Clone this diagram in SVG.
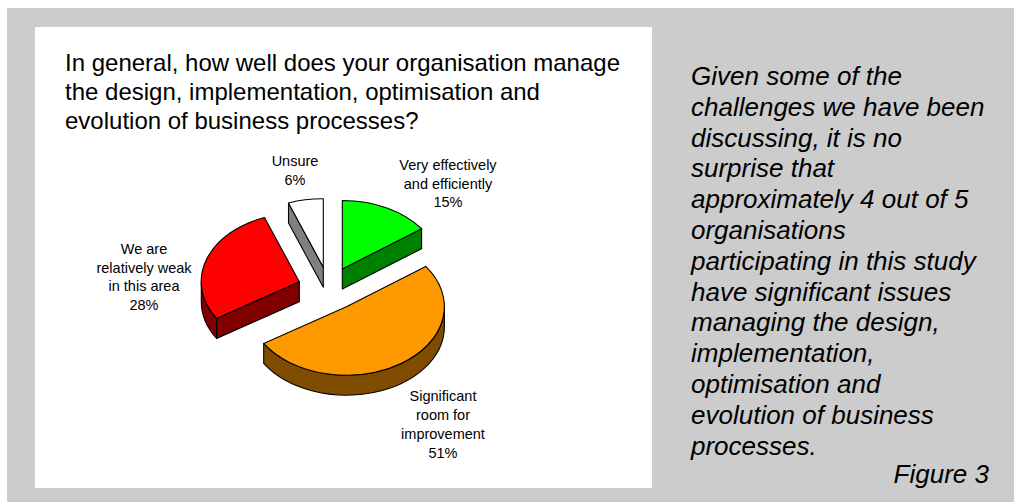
<svg xmlns="http://www.w3.org/2000/svg" width="1014" height="502" viewBox="0 0 1014 502">
<style>
.s{stroke:#000;stroke-width:1.1;stroke-linejoin:round}
.t{font-family:"Liberation Sans",Arial,sans-serif;fill:#000}
.lbl{font-size:14.5px;text-anchor:middle}
.ttl{font-size:24px}
.it{font-size:26px;font-style:italic}
</style>
<rect x="0" y="0" width="1014" height="502" fill="#fff"/>
<rect x="7" y="8" width="1007" height="494" fill="#cccccc"/>
<rect x="35" y="27" width="617" height="461" fill="#fff"/>

<g id="title" class="t ttl">
<text x="65" y="71">In general, how well does your organisation manage</text>
<text x="65" y="100">the design, implementation, optimisation and</text>
<text x="65" y="129">evolution of business processes?</text>
</g>

<g id="slice-very-effectively">
<path class="s" fill="#008000" d="M342.3,269 L421.6,228.7 L421.6,248.7 L342.3,289 Z"/>
<path class="s" fill="#00ff00" d="M342.3,269 L342.3,200.5 A98,68.5 0 0 1 421.6,228.7 Z"/>
</g>
<g id="slice-unsure">
<path class="s" fill="#808080" d="M288.5,203 L323.3,267.3 L323.3,287.3 L288.5,223 Z"/>
<path class="s" fill="#ffffff" d="M323.3,267.3 L288.5,203 A98,68.5 0 0 1 323.3,198.8 Z"/>
</g>
<g id="slice-weak">
<path class="s" fill="#800000" d="M216.6,318.4 A98,68.5 0 0 1 201.3,281.7 L201.3,301.7 A98,68.5 0 0 0 216.6,338.4 Z"/>
<path class="s" fill="#800000" d="M299.3,281.7 L216.6,318.4 L216.6,338.4 L299.3,301.7 Z"/>
<path class="s" fill="#ff0000" d="M299.3,281.7 L216.6,318.4 A98,68.5 0 0 1 264.5,217.5 Z"/>
</g>
<g id="slice-significant">
<path class="s" fill="#804c00" d="M444.4,306.7 A98,68.5 0 0 1 263.7,343.4 L263.7,363.4 A98,68.5 0 0 0 444.4,326.7 Z"/>
<path class="s" fill="#ff9900" d="M346.4,306.7 L425.7,266.4 A98,68.5 0 1 1 263.7,343.4 Z"/>
</g>

<g id="label-unsure" class="t lbl">
<text x="295" y="166">Unsure</text>
<text x="295" y="185">6%</text>
</g>
<g id="label-very-effectively" class="t lbl">
<text x="448" y="170">Very effectively</text>
<text x="448" y="188.5">and efficiently</text>
<text x="448" y="207">15%</text>
</g>
<g id="label-weak" class="t lbl">
<text x="144" y="254">We are</text>
<text x="144" y="272.5">relatively weak</text>
<text x="144" y="291">in this area</text>
<text x="144" y="310">28%</text>
</g>
<g id="label-significant" class="t lbl">
<text x="443" y="401">Significant</text>
<text x="443" y="420">room for</text>
<text x="443" y="439">improvement</text>
<text x="443" y="458">51%</text>
</g>

<g id="commentary" class="t it">
<text x="691" y="85">Given some of the</text>
<text x="691" y="115.8">challenges we have been</text>
<text x="691" y="146.6">discussing, it is no</text>
<text x="691" y="177.4">surprise that</text>
<text x="691" y="208.2">approximately 4 out of 5</text>
<text x="691" y="239">organisations</text>
<text x="691" y="269.8">participating in this study</text>
<text x="691" y="300.6">have significant issues</text>
<text x="691" y="331.4">managing the design,</text>
<text x="691" y="362.2">implementation,</text>
<text x="691" y="393">optimisation and</text>
<text x="691" y="423.8">evolution of business</text>
<text x="691" y="454.6">processes.</text>
<text x="989" y="483" text-anchor="end">Figure 3</text>
</g>
</svg>
